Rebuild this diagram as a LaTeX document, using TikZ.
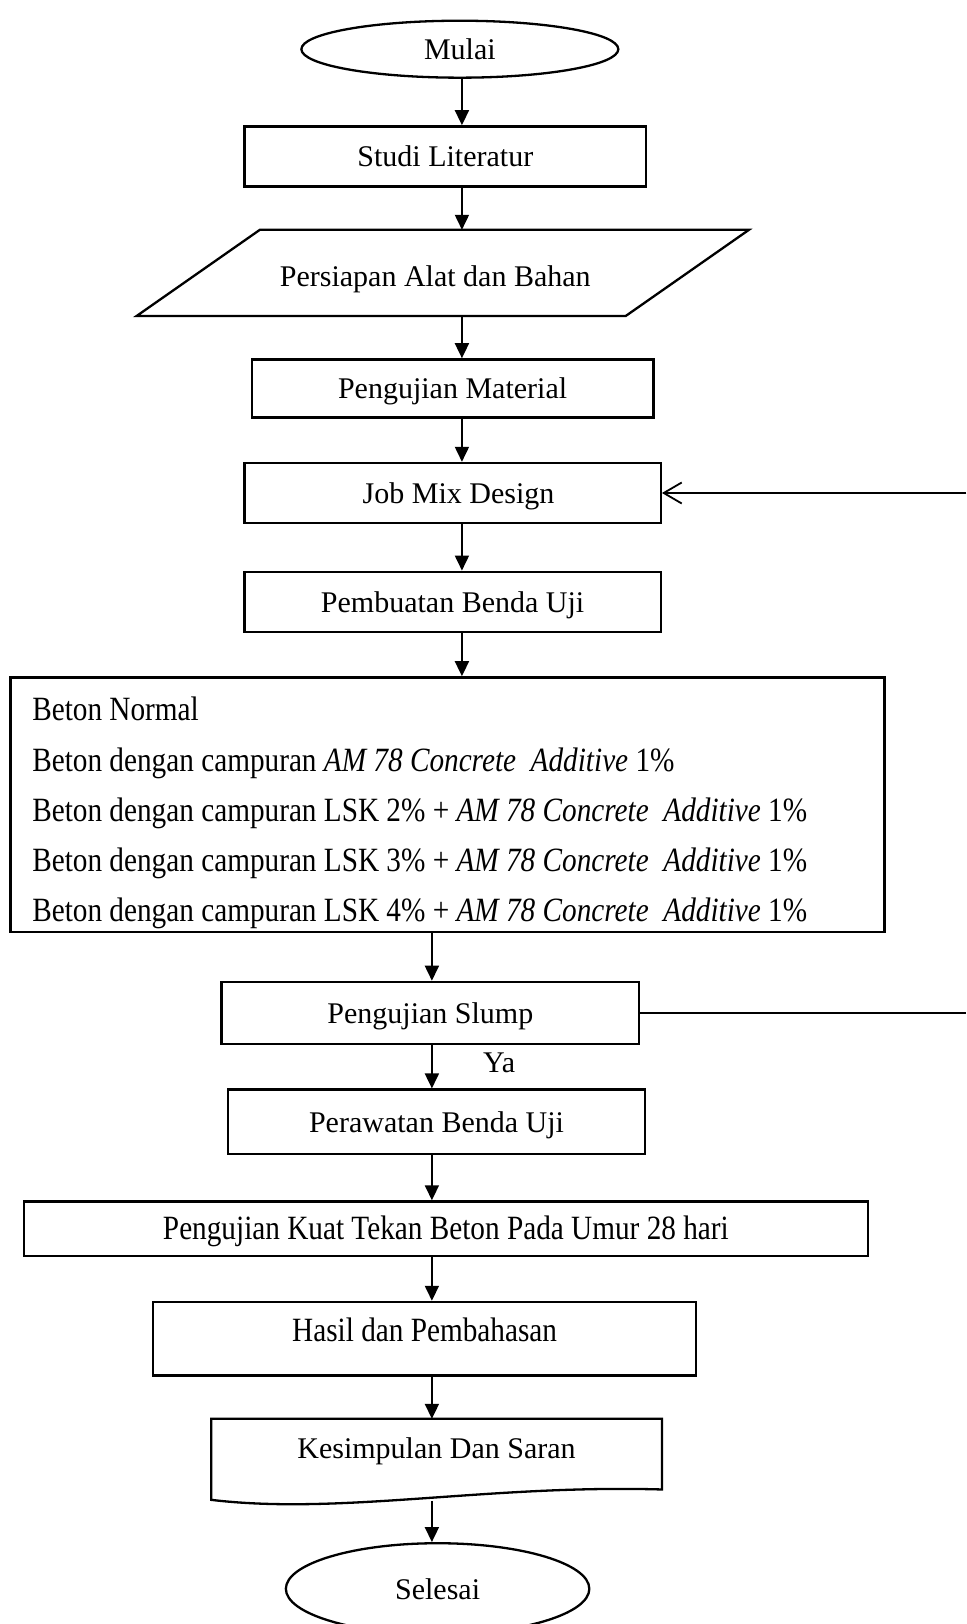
\documentclass[tikz,border=0pt]{standalone}
\usepackage{fontspec}
\usepackage{graphicx}
\setmainfont{Liberation Serif}
\usetikzlibrary{arrows.meta,calc,shapes.geometric}
\newcommand\fsn{\fontsize{30}{36}\selectfont}
\newcommand\fsc{\fontsize{34}{40}\selectfont}
\newcommand\cz[1]{\scalebox{0.86}[1]{#1}}
\begin{document}
\begin{tikzpicture}[x=1.03537pt,y=-1.03537pt,
  W/.style={minimum width=#1*1.03537pt},
  H/.style={minimum height=#1*1.03537pt},
  box/.style={draw,line width=2.3pt,inner sep=0pt,font=\fsn,text height=28.5pt,text depth=7.5pt},
  term/.style={ellipse,draw,line width=2.3pt,inner sep=0pt,font=\fsn,text height=28.5pt,text depth=7.5pt},
  arr/.style={line width=1.8pt,-{Triangle[length=15pt,width=14pt]}},
  openarr/.style={line width=1.8pt,-{Straight Barb[length=18pt,width=21pt,line width=1.8pt]}},
  plain/.style={line width=1.8pt},
  bline/.style={anchor=base west,inner sep=0pt,font=\fsc}
]
\useasboundingbox (0,0) rectangle (933,1568);
\coordinate (c1) at (446,0);
\coordinate (c2) at (417,0);

\node[term,W=306,H=55] (mulai) at (444,47.5) {Mulai};
\node[box,W=388,H=58] (studi) at (430,151) {Studi Literatur};
\node[box,draw=none,W=470,H=81,text height=35pt,text depth=7pt] (pers) at (427.5,263.5) {Persiapan Alat dan Bahan\hspace*{15pt}};
\draw[line width=2.3pt] ($(pers.north west)+(59.5,0)$) -- ($(pers.north east)+(59.5,0)$)
  -- ($(pers.south east)+(-59.5,0)$) -- ($(pers.south west)+(-59.5,0)$) -- cycle;
\node[box,W=388,H=56] (mat) at (437,375) {Pengujian Material};
\node[box,W=402,H=58] (job) at (437,476) {\hspace*{12pt}Job Mix Design};
\node[box,W=402,H=58] (buat) at (437,581) {Pembuatan Benda Uji};
\node[box,W=844,H=246] (big) at (432,777) {};
\node[bline] (l1) at (31,696) {\cz{Beton Normal}};
\node[bline] (l2) at (31,744.5) {\cz{Beton dengan campuran \textit{AM 78 Concrete\ \ Additive} 1\%}};
\node[bline] (l3) at (31,793) {\cz{Beton dengan campuran LSK 2\% + \textit{AM 78 Concrete\ \ Additive} 1\%}};
\node[bline] (l4) at (31,841.5) {\cz{Beton dengan campuran LSK 3\% + \textit{AM 78 Concrete\ \ Additive} 1\%}};
\node[bline] (l5) at (31,890) {\cz{Beton dengan campuran LSK 4\% + \textit{AM 78 Concrete\ \ Additive} 1\%}};
\node[box,W=403,H=60] (slump) at (415.5,978) {Pengujian Slump};
\node[font=\fsn,inner sep=0pt] (ya) at (482,1026) {Ya};
\node[box,W=403,H=62] (rawat) at (421.5,1083) {Perawatan Benda Uji};
\node[box,W=815,H=53,font=\fsc,text height=30pt,text depth=8pt] (kuat) at (430.5,1186.5) {\cz{Pengujian Kuat Tekan Beton Pada Umur 28 hari}};
\node[box,W=524,font=\fsc,text height=38*1.03537pt,text depth=33*1.03537pt] (hasil) at (410,1292.5) {\cz{Hasil dan Pembahasan}};
\node[box,draw=none,W=433,text height=37*1.03537pt,text depth=39*1.03537pt] (kes) at (421.5,1409) {Kesimpulan Dan Saran};
\draw[line width=2.3pt] (kes.south west) -- (kes.north west) -- (kes.north east) -- ($(kes.south east)+(0,-10)$)
  .. controls ($(kes.south east)+(-168,-15)$) and ($(kes.south west)+(125,15)$) .. (kes.south west) -- cycle;
\node[term,W=293,H=88] (selesai) at (422.5,1534) {Selesai};

\coordinate (jr) at (933,476);
\coordinate (sr) at (933,978);

\draw[arr] (mulai.south -| c1) -- (studi.north -| c1);
\draw[arr] (studi.south -| c1) -- (pers.north -| c1);
\draw[arr] (pers.south -| c1) -- (mat.north -| c1);
\draw[arr] (mat.south -| c1) -- (job.north -| c1);
\draw[arr] (job.south -| c1) -- (buat.north -| c1);
\draw[arr] (buat.south -| c1) -- (big.north -| c1);
\draw[openarr] (jr) -- (job.east);
\draw[arr] (big.south -| c2) -- (slump.north -| c2);
\draw[plain] (slump.east) -- (sr);
\draw[arr] (slump.south -| c2) -- (rawat.north -| c2);
\draw[arr] (rawat.south -| c2) -- (kuat.north -| c2);
\draw[arr] (kuat.south -| c2) -- (hasil.north -| c2);
\draw[arr] (hasil.south -| c2) -- (kes.north -| c2);
\draw[arr] ($(kes.south -| c2)+(0,1)$) -- (selesai.north -| c2);
\end{tikzpicture}
\end{document}
